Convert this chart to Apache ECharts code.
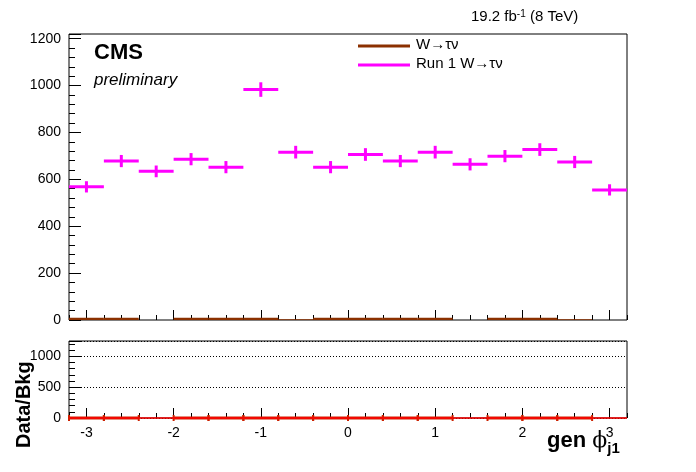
<!DOCTYPE html>
<html><head><meta charset="utf-8">
<script src="https://cdn.jsdelivr.net/npm/echarts@6/dist/echarts.min.js"></script>
<style>html,body{margin:0;background:#fff}#c{width:696px;height:472px}</style>
</head><body><div id="c"></div>
<script>
const binLow = [-3.2,-2.8,-2.4,-2.0,-1.6,-1.2,-0.8,-0.4,0.0,0.4,0.8,1.2,1.6,2.0,2.4,2.8];
const binWidth = 0.4;
const run1Values = [568,678,634,686,652,983,716,652,706,678,716,664,699,727,674,555];
const run1Errors = [24,26,25,26,26,31,27,26,27,26,27,26,26,27,26,24];
const wtnValues = [3,3,null,3,3,3,-3,3,3,3,3,null,3,3,-3,null];
const ratioValues = [0,0,null,0,0,0,0,0,0,0,0,null,0,0,0,null];
const xTicks = [-3,-2,-1,0,1,2,3];

const chart = echarts.init(document.getElementById('c'));
const F = 'Liberation Sans, Arial, sans-serif';
function seg(vals, err) {
  return vals.map((v,i)=> v===null?null:[binLow[i], binLow[i]+binWidth, v, err?err[i]:0]).filter(d=>d);
}
function crossRender(color, lw, capH) {
  return function(params, api) {
    const p1 = api.coord([api.value(0), api.value(2)]);
    const p2 = api.coord([api.value(1), api.value(2)]);
    const mid = (api.value(0)+api.value(1))/2;
    const e = api.value(3);
    const children = [{type:'line', shape:{x1:p1[0],y1:p1[1],x2:p2[0],y2:p2[1]}, style:{stroke:color,lineWidth:lw}}];
    if (e>0) {
      const a = api.coord([mid, api.value(2)+e]), b = api.coord([mid, api.value(2)-e]);
      children.push({type:'line', shape:{x1:a[0],y1:a[1],x2:b[0],y2:b[1]}, style:{stroke:color,lineWidth:lw}});
    }
    if (capH) {
      [api.value(0), api.value(1)].forEach(x=>{
        const c = api.coord([x, api.value(2)]);
        children.push({type:'line', shape:{x1:c[0],y1:c[1]-capH,x2:c[0],y2:c[1]+capH}, style:{stroke:color,lineWidth:2}});
      });
    }
    return {type:'group', children};
  };
}
function majorX(grid, labels) {
  return {type:'value', gridIndex:grid, min:-3.2, max:3.2, interval:0.2, position:'bottom',
    axisLine:{show:false, onZero:false}, splitLine:{show:false},
    axisTick:{inside:true, length:10, customValues:xTicks, lineStyle:{color:'#000'}},
    axisLabel:{show:labels, customValues:xTicks, color:'#000', fontFamily:F, fontSize:14, margin:8}};
}
function minorX(grid) {
  return {type:'value', gridIndex:grid, min:-3.2, max:3.2, interval:0.2, position:'bottom',
    axisLine:{show:false, onZero:false}, splitLine:{show:false},
    axisTick:{inside:true, length:5, lineStyle:{color:'#000'}}, axisLabel:{show:false}};
}
function yAx(grid, max, interval, split) {
  return {type:'value', gridIndex:grid, min:0, max:max, interval:interval,
    axisLine:{show:false, onZero:false},
    splitLine:{show:split, lineStyle:{color:'#000',type:[1,2],width:1}},
    axisTick:{inside:true,length:12,lineStyle:{color:'#000'}},
    minorTick:{show:true,splitNumber:5,length:6,lineStyle:{color:'#000'}},
    axisLabel:{color:'#000',fontFamily:F,fontSize:14,showMaxLabel:false,formatter:v=>String(v)}};
}
chart.setOption({
  animation:false,
  grid:[{left:69,right:69,top:34,bottom:152,show:true,borderColor:'#000',borderWidth:1},
        {left:69,right:69,top:341,bottom:54,show:true,borderColor:'#000',borderWidth:1}],
  xAxis:[majorX(0,false), majorX(1,true), minorX(0), minorX(1)],
  yAxis:[yAx(0,1220,200,false), yAx(1,1250,500,true)],
  series:[
    {type:'custom', xAxisIndex:0, yAxisIndex:0, data:seg(wtnValues), renderItem:crossRender('#8b3000',3,0), clip:true},
    {type:'custom', xAxisIndex:0, yAxisIndex:0, data:seg(run1Values,run1Errors), renderItem:crossRender('#ff00ff',3,0), clip:false},
    {type:'custom', xAxisIndex:1, yAxisIndex:1, data:seg(ratioValues), renderItem:crossRender('#cc2200',3,3), clip:false,
     markLine:{silent:true,symbol:'none',label:{show:false},lineStyle:{color:'#ff0000',width:1.5,type:'solid'},data:[{yAxis:1}]}}
  ],
  graphic:[
    {type:'text', left:94, top:42, style:{text:'CMS', font:'bold 22px '+F, fill:'#000'}},
    {type:'text', left:94, top:72, style:{text:'preliminary', font:'italic 17px '+F, fill:'#000'}},
    {type:'text', left:471, top:9, style:{rich:{a:{font:'15px '+F,fill:'#000'},s:{font:'10px '+F,fill:'#000',verticalAlign:'top'}},
      text:'{a|19.2 fb}{s|-1}{a| (8 TeV)}'}},
    {type:'line', shape:{x1:358,y1:46,x2:410,y2:46}, style:{stroke:'#8b3000',lineWidth:3}},
    {type:'text', left:416, top:37, style:{text:'W→τν', font:'15px '+F, fill:'#000'}},
    {type:'line', shape:{x1:358,y1:65,x2:410,y2:65}, style:{stroke:'#ff00ff',lineWidth:3}},
    {type:'text', left:416, top:56, style:{text:'Run 1 W→τν', font:'15px '+F, fill:'#000'}},
    {type:'text', x:14, y:448, rotation:Math.PI/2, style:{text:'Data/Bkg', font:'bold 20px '+F, fill:'#000', align:'left', verticalAlign:'top'}},
    {type:'text', left:547, top:430, style:{rich:{a:{font:'bold 22px '+F,fill:'#000'},b:{font:'22px DejaVu Serif',fill:'#000'},s:{font:'bold 15px '+F,fill:'#000',padding:[16,0,0,0]}},
      text:'{a|gen }{b|ϕ}{s|j1}'}}
  ]
});
</script></body></html>
